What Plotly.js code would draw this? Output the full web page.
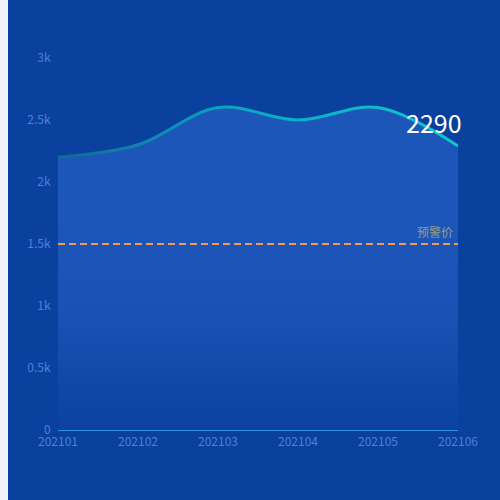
<!DOCTYPE html>
<html>
<head>
<meta charset="utf-8">
<script src="https://cdn.plot.ly/plotly-3.0.1.min.js"></script>
<style>
  html, body { margin: 0; padding: 0; background: #f3f4f8; }
  #chart { position: absolute; left: 8px; top: 0; width: 492px; height: 500px; }
</style>
</head>
<body>
<div id="chart"></div>
<script>
// 月份 / 价格
let months = ['202101', '202102', '202103', '202104', '202105', '202106'];
let prices = [2200, 2300, 2600, 2500, 2600, 2290];
let warnPrice = [1500, 1500];
let warnX = [months[0], months[months.length - 1]];
let warnLabel = '预警价';
let yTickVals = [0, 500, 1000, 1500, 2000, 2500, 3000];
let yTickText = ['0', '0.5k', '1k', '1.5k', '2k', '2.5k', '3k'];

let bg = '#0a409e';
let labelColor = '#4a80df';
let font = '"Noto Sans CJK SC", "Microsoft YaHei", sans-serif';

let priceTrace = {
    x: months,
    y: prices,
    type: 'scatter',
    mode: 'lines',
    line: { shape: 'spline', smoothing: 1, width: 3, color: '#0aa6c4' },
    fill: 'tozeroy',
    fillgradient: {
        type: 'vertical',
        start: 0,
        stop: 3000,
        colorscale: [
            [0, 'rgba(29,86,185,0.05)'],
            [0.3, 'rgba(29,86,185,0.8)'],
            [0.55, 'rgba(29,86,185,1)'],
            [1, 'rgba(29,86,185,1)']
        ]
    },
    hoverinfo: 'skip'
};

let warnTrace = {
    x: warnX,
    y: warnPrice,
    type: 'scatter',
    mode: 'lines',
    line: { color: '#f39a4e', width: 2, dash: '7px,4px' },
    hoverinfo: 'skip'
};

let last = prices.length - 1;

var layout = {
    width: 492,
    height: 500,
    paper_bgcolor: bg,
    plot_bgcolor: bg,
    showlegend: false,
    margin: { l: 50, r: 42, t: 58, b: 70 },
    font: { family: font, size: 12, color: labelColor },
    xaxis: {
        type: 'category',
        range: [0, months.length - 1],
        showgrid: false,
        zeroline: false,
        showline: true,
        linecolor: '#2a8de6',
        linewidth: 1,
        ticks: 'outside',
        ticklen: 1,
        tickcolor: 'rgba(0,0,0,0)',
        tickfont: { family: font, size: 12, color: labelColor }
    },
    yaxis: {
        range: [0, 3000],
        showgrid: false,
        zeroline: false,
        showline: false,
        tickvals: yTickVals,
        ticktext: yTickText,
        ticks: 'outside',
        ticklen: 4,
        tickcolor: 'rgba(0,0,0,0)',
        tickfont: { family: font, size: 12, color: labelColor }
    },
    annotations: [
        {
            // category axis: use the index of the last month
            x: last, y: prices[last],
            xref: 'x', yref: 'y',
            text: String(prices[last]),
            showarrow: false,
            xanchor: 'right', yanchor: 'bottom',
            xshift: 6, yshift: 4,
            font: { family: font, size: 25, color: '#ffffff' }
        },
        {
            x: last, y: warnPrice[1],
            xref: 'x', yref: 'y',
            text: warnLabel,
            showarrow: false,
            xanchor: 'right', yanchor: 'bottom',
            xshift: -3, yshift: 2,
            font: { family: font, size: 12, color: '#93a084' }
        }
    ]
};

Plotly.newPlot('chart', [priceTrace, warnTrace], layout, { displayModeBar: false, staticPlot: true }).then(function (gd) {
    // 折线渐变色
    let svgNS = 'http://www.w3.org/2000/svg';
    let defs = gd.querySelector('.main-svg defs');
    let grad = document.createElementNS(svgNS, 'linearGradient');
    grad.setAttribute('id', 'lineGrad');
    grad.setAttribute('gradientUnits', 'userSpaceOnUse');
    grad.setAttribute('x1', '0');
    grad.setAttribute('x2', String(gd._fullLayout._size.w));
    grad.setAttribute('y1', '0');
    grad.setAttribute('y2', '0');
    [['0', '#146698'], ['0.45', '#0aa8c2'], ['1', '#10c6d0']].forEach(function (s) {
        let stop = document.createElementNS(svgNS, 'stop');
        stop.setAttribute('offset', s[0]);
        stop.setAttribute('stop-color', s[1]);
        grad.appendChild(stop);
    });
    defs.appendChild(grad);
    let path = gd.querySelectorAll('.scatterlayer .trace')[0].querySelector('.js-line');
    if (path) path.style.stroke = 'url(#lineGrad)';
});
</script>
</body>
</html>
